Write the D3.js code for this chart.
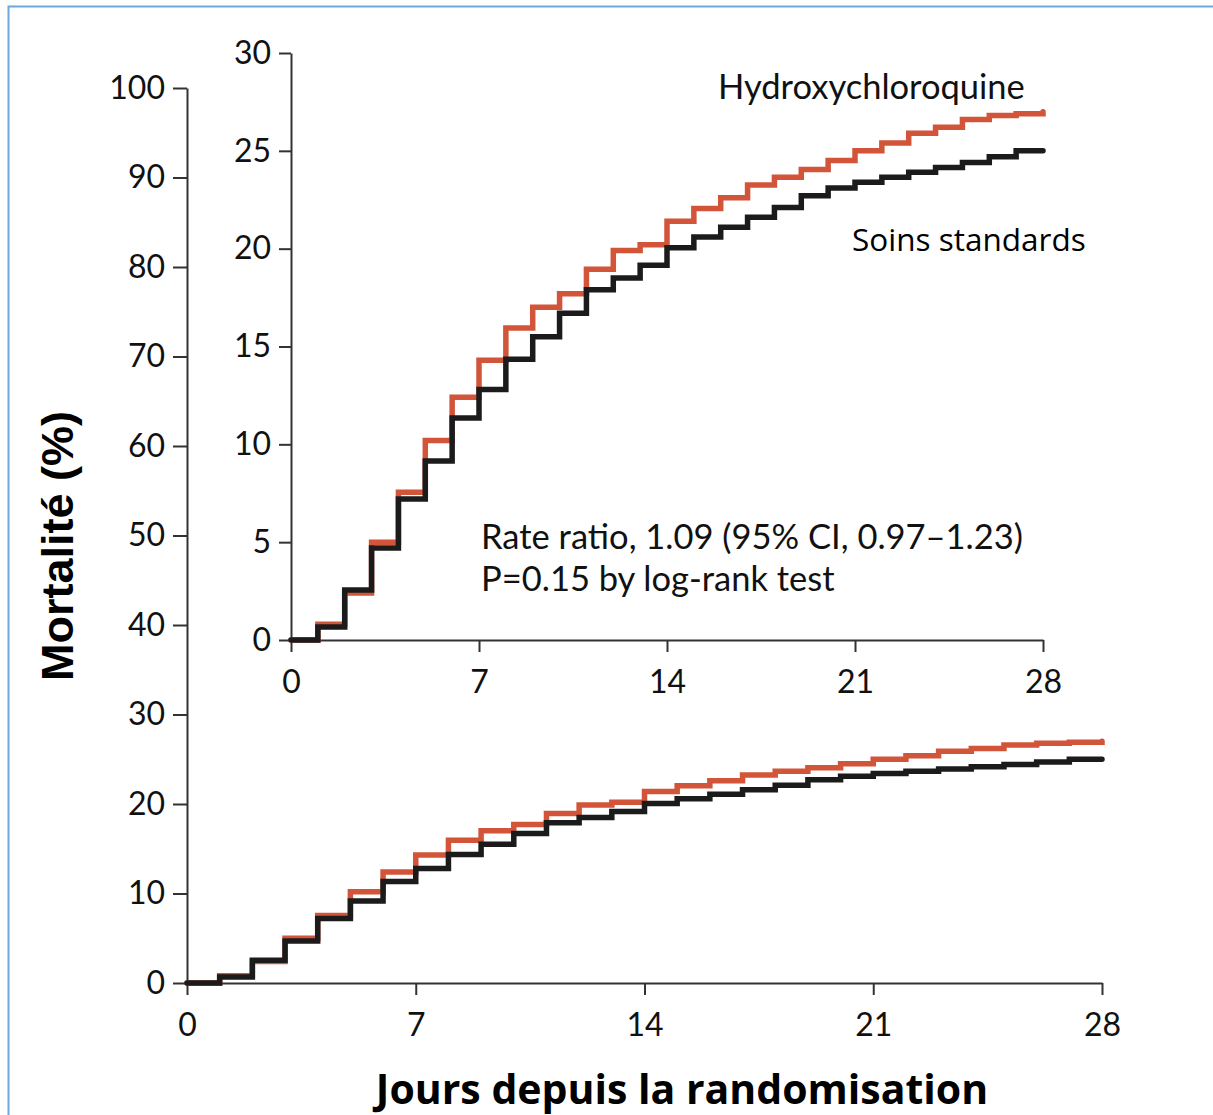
<!DOCTYPE html>
<html>
<head>
<meta charset="utf-8">
<script src="https://cdn.jsdelivr.net/npm/d3@7"></script>
<style>
  body { margin: 0; background: #fff; }
  svg { display: block; }
  .tick text { font-family: Lato, "Open Sans", sans-serif; font-size: 32px; fill: #111; }
  .tick line, .domain { stroke: #333; stroke-width: 2; }
</style>
</head>
<body>
<div id="chart"></div>
<script>
// Days since randomisation (step every day)
var days = d3.range(0, 29);

// Cumulative mortality (%), value reached at each day
var hcq = [0, 0.8, 2.4, 5.0, 7.55, 10.2, 12.4, 14.3, 15.95, 17.0, 17.7, 18.95, 19.9, 20.2,
           21.4, 22.05, 22.6, 23.25, 23.65, 24.05, 24.5, 25.0, 25.4, 25.9, 26.2, 26.6, 26.8, 26.9, 27.0];
var standard = [0, 0.66, 2.55, 4.7, 7.2, 9.15, 11.35, 12.8, 14.35, 15.5, 16.7, 17.9, 18.5, 19.15,
                20.05, 20.6, 21.1, 21.6, 22.1, 22.7, 23.1, 23.4, 23.65, 23.9, 24.15, 24.4, 24.7, 25.0, 25.0];

var xTicks = [0, 7, 14, 21, 28];
var outerYTicks = d3.range(0, 101, 10);
var insetYTicks = [0, 5, 10, 15, 20, 25, 30];

var svgWidth = 1213;
var svgHeight = 1115;

var svg = d3.select("#chart")
    .append("svg")
    .attr("width", svgWidth)
    .attr("height", svgHeight);

// light blue frame
svg.append("rect")
    .attr("x", 8.5)
    .attr("y", 6.5)
    .attr("width", 1220)
    .attr("height", 1130)
    .attr("fill", "none")
    .attr("stroke", "#6aa8e0")
    .attr("stroke-width", 2);

var red = "#d2553a";
var black = "#1b1b1b";

function drawCurves(g, x, y, width) {
    var line = d3.line()
        .x(d => x(d[0]))
        .y(d => y(d[1]))
        .curve(d3.curveStepAfter);
    [[hcq, red], [standard, black]].forEach(function(s) {
        var pts = days.map((d, i) => [d, s[0][i]]);
        g.append("path")
            .datum(pts)
            .attr("d", line)
            .attr("fill", "none")
            .attr("stroke", s[1])
            .attr("stroke-width", width)
            .attr("stroke-linejoin", "miter")
            .attr("stroke-linecap", "round");
    });
}

// ---- main (outer) chart ----
var xMain = d3.scaleLinear().domain([0, 28]).range([187, 1102]);
var yMain = d3.scaleLinear().domain([0, 100]).range([983, 88]);

var outer = svg.append("g");

outer.append("g")
    .attr("transform", "translate(0,983)")
    .call(d3.axisBottom(xMain).tickValues(xTicks).tickSize(12).tickSizeOuter(0).tickPadding(18));

outer.append("g")
    .attr("transform", "translate(187,0)")
    .call(d3.axisLeft(yMain).tickValues(outerYTicks).tickSize(14).tickSizeOuter(0).tickPadding(8));

drawCurves(outer, xMain, yMain, 5.5);

// ---- inset chart ----
var xIn = d3.scaleLinear().domain([0, 28]).range([291, 1043]);
var yIn = d3.scaleLinear().domain([0, 30]).range([640, 53]);

var inset = svg.append("g");

inset.append("g")
    .attr("transform", "translate(0,640)")
    .call(d3.axisBottom(xIn).tickValues(xTicks).tickSize(12).tickSizeOuter(0).tickPadding(18));

inset.append("g")
    .attr("transform", "translate(291,0)")
    .call(d3.axisLeft(yIn).tickValues(insetYTicks).tickSize(12).tickSizeOuter(0).tickPadding(8));

drawCurves(inset, xIn, yIn, 5.5);

// labels
svg.append("text")
    .attr("x", 718).attr("y", 99)
    .style("font-family", "Lato, sans-serif")
    .style("font-size", "34.5px")
    .attr("fill", "#111")
    .text("Hydroxychloroquine");

svg.append("text")
    .attr("x", 852).attr("y", 251)
    .style("font-family", "'Open Sans', sans-serif")
    .style("font-size", "31.5px")
    .attr("fill", "#000")
    .text("Soins standards");

svg.append("text")
    .attr("x", 481).attr("y", 549)
    .style("font-family", "Lato, sans-serif")
    .style("font-size", "34.5px")
    .attr("fill", "#111")
    .text("Rate ratio, 1.09 (95% CI, 0.97\u20131.23)");

svg.append("text")
    .attr("x", 481).attr("y", 591)
    .style("font-family", "Lato, sans-serif")
    .style("font-size", "34.5px")
    .attr("fill", "#111")
    .text("P=0.15 by log-rank test");

// axis titles
svg.append("text")
    .attr("transform", "translate(73,546) rotate(-90)")
    .attr("text-anchor", "middle")
    .style("font-family", "'Liberation Sans', Arial, sans-serif")
    .style("font-weight", "bold")
    .style("font-size", "45px")
    .attr("fill", "#000")
    .text("Mortalité (%)");

svg.append("text")
    .attr("x", 682).attr("y", 1104)
    .attr("text-anchor", "middle")
    .style("font-family", "'Open Sans', sans-serif")
    .style("font-weight", "bold")
    .style("font-size", "41px")
    .attr("fill", "#000")
    .text("Jours depuis la randomisation");
</script>
</body>
</html>
